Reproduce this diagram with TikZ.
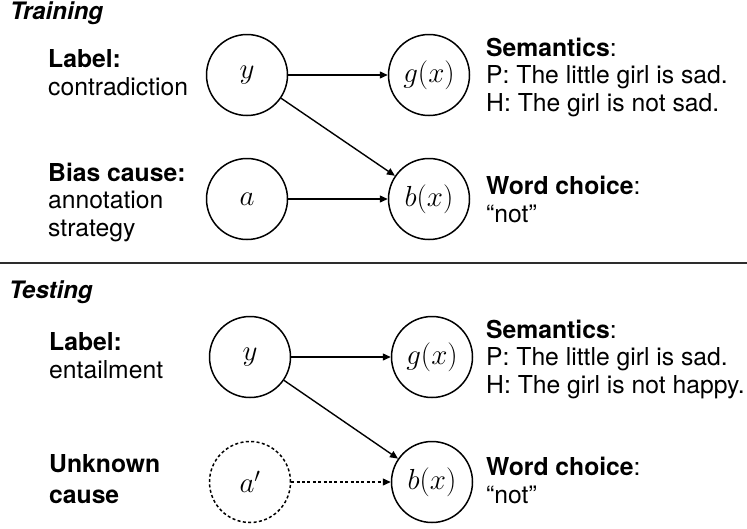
\RequirePackage{fix-cm}
\documentclass[tikz,border=0pt]{standalone}
\usepackage{fontspec}
\setmainfont{TeX Gyre Heros}
\usetikzlibrary{arrows.meta, positioning}
\definecolor{rulegray}{RGB}{45,45,45}

\begin{document}
\begin{tikzpicture}[
    x=1pt, y=-1pt,
    var/.style={
      circle,
      draw,
      line width=1.5pt,
      minimum size=81pt,
      inner sep=0pt,
      font=\fontsize{29}{32}\selectfont
    },
    hidden/.style={var, dash pattern=on 3pt off 2.4pt},
    arrow/.style={-{Triangle[length=8pt,width=7pt]}, line width=1.4pt},
    dasharrow/.style={arrow, dash pattern=on 3pt off 2.4pt},
    info/.style={anchor=base west, align=left, inner sep=0pt, font=\fontsize{24.7}{27.5}\selectfont},
    phase/.style={anchor=base west, inner sep=0pt, font=\fontsize{24}{26}\selectfont\bfseries\itshape}
]
\useasboundingbox (0,0) rectangle (747,528);

% training (info nodes sit on the baseline of their last line)
\node[phase] (trainHead) at (10,19) {Training};
\node[var] (trainY) at (247,75) {$y$};
\node[var] (trainG) at (429,75) {$g(x)$};
\node[var] (trainA) at (247,199) {$a$};
\node[var] (trainB) at (429,199) {$b(x)$};
\node[info] (trainLabel) at (48,95) {\textbf{Label:}\\contradiction};
\node[info] (trainBias) at (48,236) {\textbf{Bias cause:}\\annotation\\strategy};
\node[info] (trainSem) at (486,111) {\textbf{Semantics}:\\P: The little girl is sad.\\H: The girl is not sad.};
\node[info] (trainWord) at (486,222) {\textbf{Word choice}:\\``not''};

\draw[arrow] (trainY) -- (trainG);
\draw[arrow] (trainY) -- (trainB);
\draw[arrow] (trainA) -- (trainB);

\draw[rulegray, line width=2.5pt] (0,263) -- (747,263);

% testing
\node[phase] (testHead) at (9,298) {Testing};
\node[var] (testY) at (250,357) {$y$};
\node[var] (testG) at (432,357) {$g(x)$};
\node[hidden] (testA) at (250,482) {$a'$};
\node[var] (testB) at (432,482) {$b(x)$};
\node[info] (testLabel) at (49,378) {\textbf{Label:}\\entailment};
\node[info] (testUnk) at (49,503) {\textbf{Unknown}\\[3pt]\textbf{cause}};
\node[info] (testSem) at (486,393) {\textbf{Semantics}:\\P: The little girl is sad.\\H: The girl is not happy.};
\node[info] (testWord) at (486,503) {\textbf{Word choice}:\\``not''};

\draw[arrow] (testY) -- (testG);
\draw[arrow] (testY) -- (testB);
\draw[dasharrow] (testA) -- (testB);
\end{tikzpicture}
\end{document}
